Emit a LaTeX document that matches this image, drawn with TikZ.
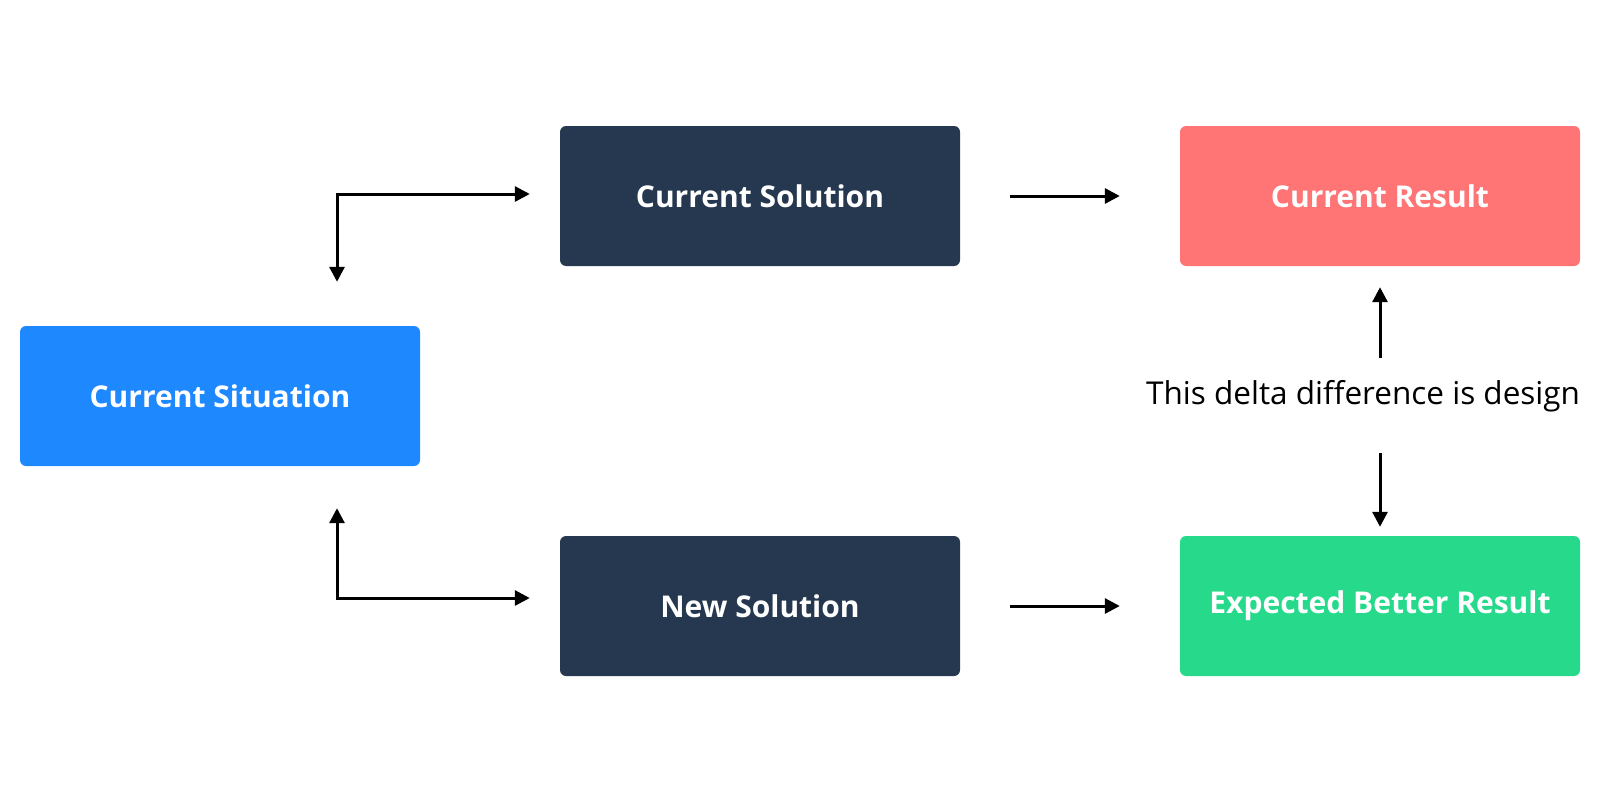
\documentclass[tikz,border=0pt]{standalone}
\usepackage{fontspec}
\setmainfont{Open Sans}
\usetikzlibrary{arrows.meta}
\definecolor{cblue}{RGB}{30,136,255}
\definecolor{cnavy}{RGB}{37,56,79}
\definecolor{cred}{RGB}{255,117,117}
\definecolor{cgreen}{RGB}{38,217,139}
\begin{document}
\begin{tikzpicture}[x=1pt,y=-1pt,
  box/.style={rounded corners=6pt, minimum width=400pt, minimum height=140pt, inner sep=0pt, text=white, font=\fontsize{30}{36}\selectfont\bfseries},
  arr/.style={line width=3pt, -{Triangle[length=15pt,width=15pt]}},
  darr/.style={line width=3pt, {Triangle[length=15pt,width=15pt]}-{Triangle[length=15pt,width=15pt]}}]
\useasboundingbox (0,0) rectangle (1600,800);
\node[box, fill=cblue] (sit) at (220,396) {Current Situation};
\node[box, fill=cnavy] (cs) at (760,196) {Current Solution};
\node[box, fill=cnavy] (ns) at (760,606) {New Solution};
\node[box, fill=cred] (cr) at (1380,196) {Current Result};
\node[box, fill=cgreen] (eb) at (1380,606) {Expected Better Result};
\node[font=\fontsize{31.5}{38}\selectfont, anchor=west, inner sep=0pt] (delta) at (1146,396) {This delta difference is design};
\coordinate (c1) at (337,194);
\coordinate (c2) at (337,598);
\coordinate (d1) at (1380,358);
\coordinate (d2) at (1380,453);
\draw[darr, shorten <=44pt, shorten >=30pt] (c1 |- sit.north) -- (c1) -- (c1 -| cs.west);
\draw[darr, shorten <=42pt, shorten >=30pt] (c2 |- sit.south) -- (c2) -- (c2 -| ns.west);
\draw[arr, shorten <=50pt, shorten >=60pt] (cs.east) -- (cr.west);
\draw[arr, shorten <=50pt, shorten >=60pt] (ns.east) -- (eb.west);
\draw[arr, shorten >=21pt] (d1) -- (cr.south);
\draw[arr, shorten >=9pt] (d2) -- (eb.north);
\end{tikzpicture}
\end{document}
